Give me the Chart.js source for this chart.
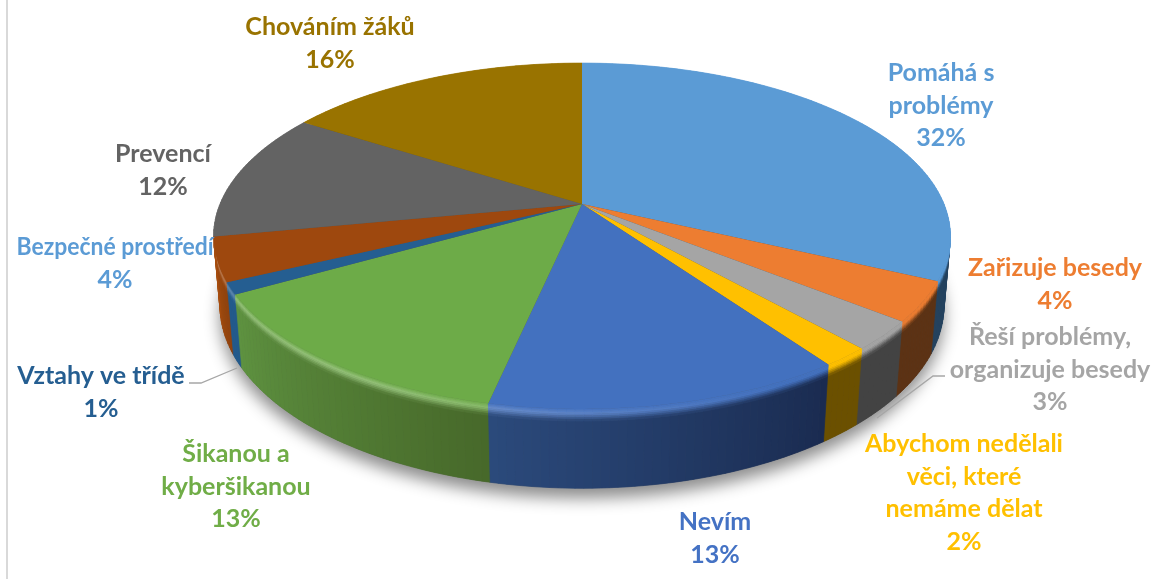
<!DOCTYPE html>
<html lang="cs">

<head>
    <meta charset="UTF-8" />
    <title>Koláčový graf</title>
    <script src="https://cdn.jsdelivr.net/npm/chart.js@4/dist/chart.umd.min.js"></script>
    <style>
        html, body { margin: 0; padding: 0; background: #fff; }
        canvas { display: block; }
    </style>
</head>

<body>
    <canvas id="myChart" width="1152" height="579"></canvas>

    <script>
        const categories = ['Pomáhá s\nproblémy', 'Zařizuje besedy', 'Řeší problémy,\norganizuje besedy', 'Abychom nedělali\nvěci, které\nnemáme dělat', 'Nevím', 'Šikanou a\nkyberšikanou', 'Vztahy ve třídě', 'Bezpečné prostředí', 'Prevencí', 'Chováním žáků'];
        const values = [32, 3.7, 2.7, 1.8, 13.2, 13.4, 1.1, 4.1, 12, 16];

        const topColors = ['#5B9BD5', '#ED7D31', '#A5A5A5', '#FFC000', '#4371BF', '#6DAB48', '#255E91', '#9E480E', '#636363', '#997300'];
        const labelColors = ['#5B9BD5', '#ED7D31', '#A5A5A5', '#FFC000', '#4472C4', '#70AD47', '#255E91', '#5B9BD5', '#636363', '#997300'];
        // side wall colour at the start and at the end of each slice (clockwise)
        const wallStart = ['#24425E', '#5C3214', '#434343', '#6B5000', '#1A2B50', '#47692A', '#235A8C', '#8F420D', '#5A5A5A', '#7A5C00'];
        const wallEnd = ['#24425E', '#5C3214', '#434343', '#6B5000', '#2B4A7C', '#5E9240', '#235A8C', '#A84E0E', '#5A5A5A', '#7A5C00'];

        const labelX = [941, 1055, 1050, 964, 715, 236, 101, 115, 163, 330];
        const labelY = [73, 268, 337, 444, 522, 454, 376, 247, 154, 27];
        const lineGap = 32.6;
        // Bezpečné prostředí is set tighter than the others in the picture
        const labelMaxWidth = [0, 0, 0, 0, 0, 0, 0, 197, 0, 0];

        const leaderLines = [
            [[189, 383], [201, 383], [237, 368]],
            [[945, 376], [933, 376], [877, 418]]
        ];

        // perspective of the tilted pie
        const scaleX = 362 / 204, scaleY = 167 / 204;
        const persp = 0.185, depthY = 69.5, depthW = 0.017, bevel = 0.15;

        function project(el, angle, z) {
            const u = Math.cos(angle);
            const v = Math.sin(angle);
            const w = 1 - persp * v + depthW * z;
            const R = el.outerRadius;
            return {
                x: el.x + R * scaleX * u / w,
                y: el.y + (R * scaleY * v + depthY * z) / w
            };
        }

        function rgb(hex) {
            return [1, 3, 5].map(i => parseInt(hex.substr(i, 2), 16));
        }

        function mix(a, b, t) {
            return a.map((c, i) => c + (b[i] - c) * t);
        }

        function css(c) {
            return 'rgb(' + c.map(Math.round).join(',') + ')';
        }

        function quad(ctx, el, a1, a2, z1, z2, color) {
            const p = [project(el, a1, z1), project(el, a2, z1), project(el, a2, z2), project(el, a1, z2)];
            ctx.fillStyle = color;
            ctx.strokeStyle = color;
            ctx.lineWidth = 0.7;
            ctx.beginPath();
            p.forEach((q, i) => i ? ctx.lineTo(q.x, q.y) : ctx.moveTo(q.x, q.y));
            ctx.closePath();
            ctx.fill();
            ctx.stroke();
        }

        const pie3d = {
            id: 'pie3d',
            beforeDatasetsDraw(chart) {
                const ctx = chart.ctx;
                const arcs = chart.getDatasetMeta(0).data;
                ctx.save();

                // soft shadow under the pie
                ctx.save();
                ctx.shadowColor = 'rgba(0,0,0,0.45)';
                ctx.shadowBlur = 16;
                ctx.shadowOffsetY = 10;
                ctx.fillStyle = '#555';
                ctx.beginPath();
                for (let i = 0; i <= 180; i++) {
                    const q = project(arcs[0], i / 180 * Math.PI * 2, 1);
                    i ? ctx.lineTo(q.x, q.y) : ctx.moveTo(q.x, q.y);
                }
                ctx.closePath();
                ctx.fill();
                ctx.restore();

                // side walls, back to front
                const order = arcs.map((el, i) => i).sort((a, b) =>
                    Math.sin((arcs[a].startAngle + arcs[a].endAngle) / 2) - Math.sin((arcs[b].startAngle + arcs[b].endAngle) / 2));
                order.forEach(i => {
                    const el = arcs[i];
                    const top = rgb(topColors[i]);
                    const n = Math.max(4, Math.ceil((el.endAngle - el.startAngle) * 50));
                    for (let s = 0; s < n; s++) {
                        const a1 = el.startAngle + (el.endAngle - el.startAngle) * s / n;
                        const a2 = el.startAngle + (el.endAngle - el.startAngle) * (s + 1) / n;
                        const wall = mix(rgb(wallStart[i]), rgb(wallEnd[i]), (s + 0.5) / n);
                        quad(ctx, el, a1, a2, bevel, 1, css(wall));

                        // rounded rim: catches the light on the front left
                        const u = Math.cos((a1 + a2) / 2);
                        const glow = Math.max(0, Math.min(0.28, 0.14 - 0.3 * u));
                        const hi = mix(top, [255, 255, 255], glow);
                        const strips = 7;
                        for (let k = 0; k < strips; k++) {
                            const t = (k + 0.5) / strips;
                            const c = t < 0.4 ? mix(top, hi, t / 0.4) : mix(hi, wall, (t - 0.4) / 0.6);
                            quad(ctx, el, a1, a2, bevel * k / strips, bevel * (k + 1) / strips, css(c));
                        }
                    }
                });

                // top faces
                arcs.forEach((el, i) => {
                    const n = Math.max(4, Math.ceil((el.endAngle - el.startAngle) * 50));
                    ctx.fillStyle = topColors[i];
                    ctx.beginPath();
                    ctx.moveTo(el.x, el.y);
                    for (let s = 0; s <= n; s++) {
                        const q = project(el, el.startAngle + (el.endAngle - el.startAngle) * s / n, 0);
                        ctx.lineTo(q.x, q.y);
                    }
                    ctx.closePath();
                    ctx.fill();
                });

                ctx.restore();
                return false;
            },
            afterDraw(chart) {
                const ctx = chart.ctx;
                ctx.save();

                // the frame line at the left of the picture
                ctx.strokeStyle = '#D9D9D9';
                ctx.lineWidth = 2;
                ctx.beginPath();
                ctx.moveTo(7, 0);
                ctx.lineTo(7, 579);
                ctx.stroke();

                ctx.strokeStyle = '#A6A6A6';
                ctx.lineWidth = 1.3;
                leaderLines.forEach(line => {
                    ctx.beginPath();
                    line.forEach((p, i) => i ? ctx.lineTo(p[0], p[1]) : ctx.moveTo(p[0], p[1]));
                    ctx.stroke();
                });

                ctx.font = 'bold 25px Lato';
                ctx.textAlign = 'center';
                ctx.textBaseline = 'middle';
                categories.forEach((name, i) => {
                    const lines = name.split('\n').concat(Math.round(values[i]) + '%');
                    ctx.fillStyle = labelColors[i];
                    lines.forEach((text, k) => {
                        if (labelMaxWidth[i]) ctx.fillText(text, labelX[i], labelY[i] + k * lineGap, labelMaxWidth[i]);
                        else ctx.fillText(text, labelX[i], labelY[i] + k * lineGap);
                    });
                });
                ctx.restore();
            }
        };

        const myChart = new Chart(document.getElementById('myChart').getContext('2d'), {
            type: 'pie',
            data: {
                labels: categories,
                datasets: [{ data: values, backgroundColor: topColors, borderWidth: 0 }]
            },
            options: {
                responsive: false,
                animation: false,
                layout: { padding: { left: 12, bottom: 171 } },
                plugins: { legend: { display: false }, tooltip: { enabled: false } }
            },
            plugins: [pie3d]
        });
    </script>
</body>

</html>
